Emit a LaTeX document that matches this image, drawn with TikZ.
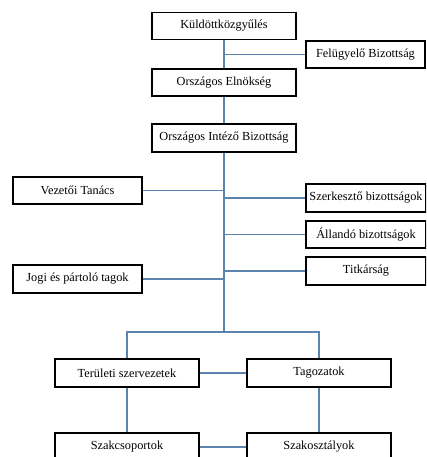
\documentclass[tikz,border=0pt]{standalone}
\usepackage{fontspec}
\setmainfont{Liberation Serif}
\definecolor{linkblue}{HTML}{5B83AE}
\begin{document}
\begin{tikzpicture}[x=1pt,y=-1pt,
    box/.style={draw=black,line width=1.2pt,fill=white,minimum height=27pt,inner sep=0pt,font=\fontsize{12.3}{14}\selectfont},
    link/.style={draw=linkblue,line width=1.1pt}]
      \clip (0,0) rectangle (426,457);
      \fill[white] (0,0) rectangle (426,457);
      \node[box,minimum width=144pt] (kgy) at (224,26) {Küldöttközgyűlés};
      \node[box,minimum width=119pt] (fb) at (365.5,54.5) {Felügyelő Bizottság};
      \node[box,minimum width=144pt] (oe) at (224,82.5) {Országos Elnökség};
      \node[box,minimum width=144pt,minimum height=28pt] (oib) at (224,138) {Országos Intéző Bizottság};
      \node[box,minimum width=129pt] (vt) at (77.5,190.5) {Vezetői Tanács};
      \node[box,minimum width=120pt,minimum height=28pt] (szb) at (366,198) {Szerkesztő bizottságok};
      \node[box,minimum width=120pt] (ab) at (366,234.5) {Állandó bizottságok};
      \node[box,minimum width=120pt,minimum height=28pt] (tit) at (366,271) {Titkárság};
      \node[box,minimum width=129pt,minimum height=28pt] (jpt) at (77.5,279) {Jogi és pártoló tagok};
      \node[box,minimum width=144pt,minimum height=28pt] (tsz) at (127,373) {Területi szervezetek};
      \node[box,minimum width=144pt,minimum height=28pt] (tag) at (319,373) {Tagozatok};
      \node[box,minimum width=144pt,minimum height=28pt] (szcs) at (127,447) {Szakcsoportok};
      \node[box,minimum width=144pt,minimum height=28pt] (szo) at (319,447) {Szakosztályok};
      \coordinate (split) at (224,332);
      % trunk
      \draw[link] (kgy.south) -- (oe.north);
      \draw[link] (kgy.south |- fb.west) -- (fb.west);
      \draw[link] (oe.south) -- (oib.north);
      \draw[link] (oib.south) -- (split);
      % side branches
      \draw[link] (vt.east) -- (vt.east -| oib.south);
      \draw[link] (jpt.east) -- (jpt.east -| oib.south);
      \draw[link] (szb.west -| oib.south) -- (szb.west);
      \draw[link] (ab.west -| oib.south) -- (ab.west);
      \draw[link] (tit.west -| oib.south) -- (tit.west);
      % lower level
      \draw[link] (tsz.north) -- (tsz.north |- split) -- (tag.north |- split) -- (tag.north);
      \draw[link] (tsz.east) -- (tag.west);
      \draw[link] (tsz.south) -- (szcs.north);
      \draw[link] (tag.south) -- (szo.north);
      \draw[link] (szcs.east) -- (szo.west);
\end{tikzpicture}
\end{document}
